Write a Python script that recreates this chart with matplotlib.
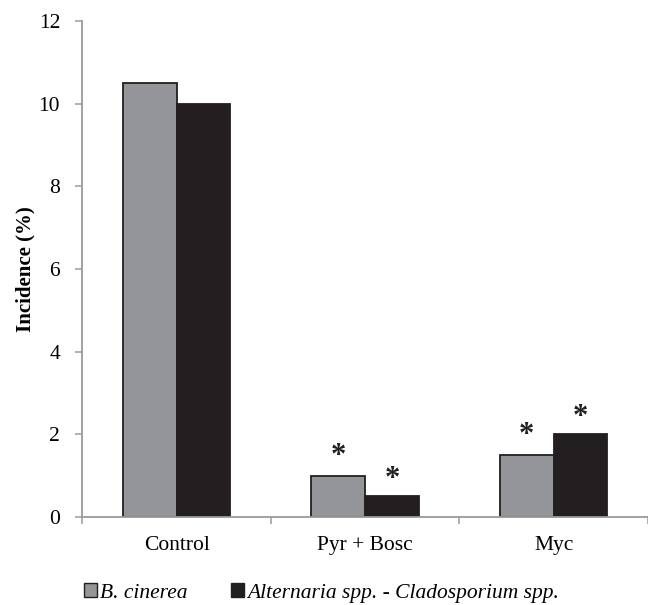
import numpy as np
import matplotlib
matplotlib.use("Agg")
import matplotlib.pyplot as plt
from matplotlib.patches import Patch

plt.rcParams["font.family"] = ["Liberation Serif", "DejaVu Serif"]

# data
categories = ["Control", "Pyr + Bosc", "Myc"]
series_names = ["B. cinerea", "Alternaria spp. - Cladosporium spp."]
botrytis = [10.5, 1.0, 1.5]
alternaria = [10.0, 0.5, 2.0]
botrytis_sig = [False, True, True]
alternaria_sig = [False, True, True]

grey = "#939598"
black = "#231f20"
axis_grey = "#9a9a9a"

fig = plt.figure(figsize=(6.48, 6.05), dpi=100)
ax = fig.add_axes([0.127, 0.1455, 0.873, 0.8197])

x = np.arange(len(categories))
w = 0.285
ax.bar(x - w / 2, botrytis, width=w, color=grey, edgecolor=black, linewidth=1.3)
ax.bar(x + w / 2, alternaria, width=w, color=black, edgecolor=black, linewidth=1.3)

# significance asterisks
for xi, v, s in zip(x - w / 2, botrytis, botrytis_sig):
    if s:
        ax.text(xi, v + 0.12, "*", ha="center", va="bottom", fontsize=22,
                fontweight="bold", color=black)
for xi, v, s in zip(x + w / 2, alternaria, alternaria_sig):
    if s:
        ax.text(xi, v + 0.06, "*", ha="center", va="bottom", fontsize=22,
                fontweight="bold", color=black)

ax.set_xlim(-0.5, 2.5)
ax.set_ylim(0, 12)
ax.set_yticks(np.arange(0, 13, 2))
ax.set_xticks(x)
ax.set_xticklabels(categories)
ax.set_xticks(np.arange(-0.5, 3.0, 1.0), minor=True)
ax.tick_params(axis="x", which="major", length=0, pad=14, labelsize=15.5)
ax.tick_params(axis="x", which="minor", length=5, width=1.1, color=axis_grey, direction="out")
ax.tick_params(axis="y", length=5, width=1.1, color=axis_grey, pad=11, labelsize=15.5)

for side in ["top", "right"]:
    ax.spines[side].set_visible(False)
for side in ["left", "bottom"]:
    ax.spines[side].set_color(axis_grey)
    ax.spines[side].set_linewidth(1.3)

ax.set_ylabel("Incidence (%)", fontsize=15, fontweight="bold", labelpad=2)

handles = [
    Patch(facecolor=grey, edgecolor=black, linewidth=1.0),
    Patch(facecolor=black, edgecolor=black, linewidth=1.0),
]
fig.legend(handles, series_names, loc="center left", bbox_to_anchor=(0.1, 0.02),
           ncol=2, frameon=False, handlelength=0.6, handleheight=0.6,
           handletextpad=0.15, columnspacing=2.0, prop={"style": "italic", "size": 15.5})

fig.savefig("out.png", dpi=100, facecolor="white")
